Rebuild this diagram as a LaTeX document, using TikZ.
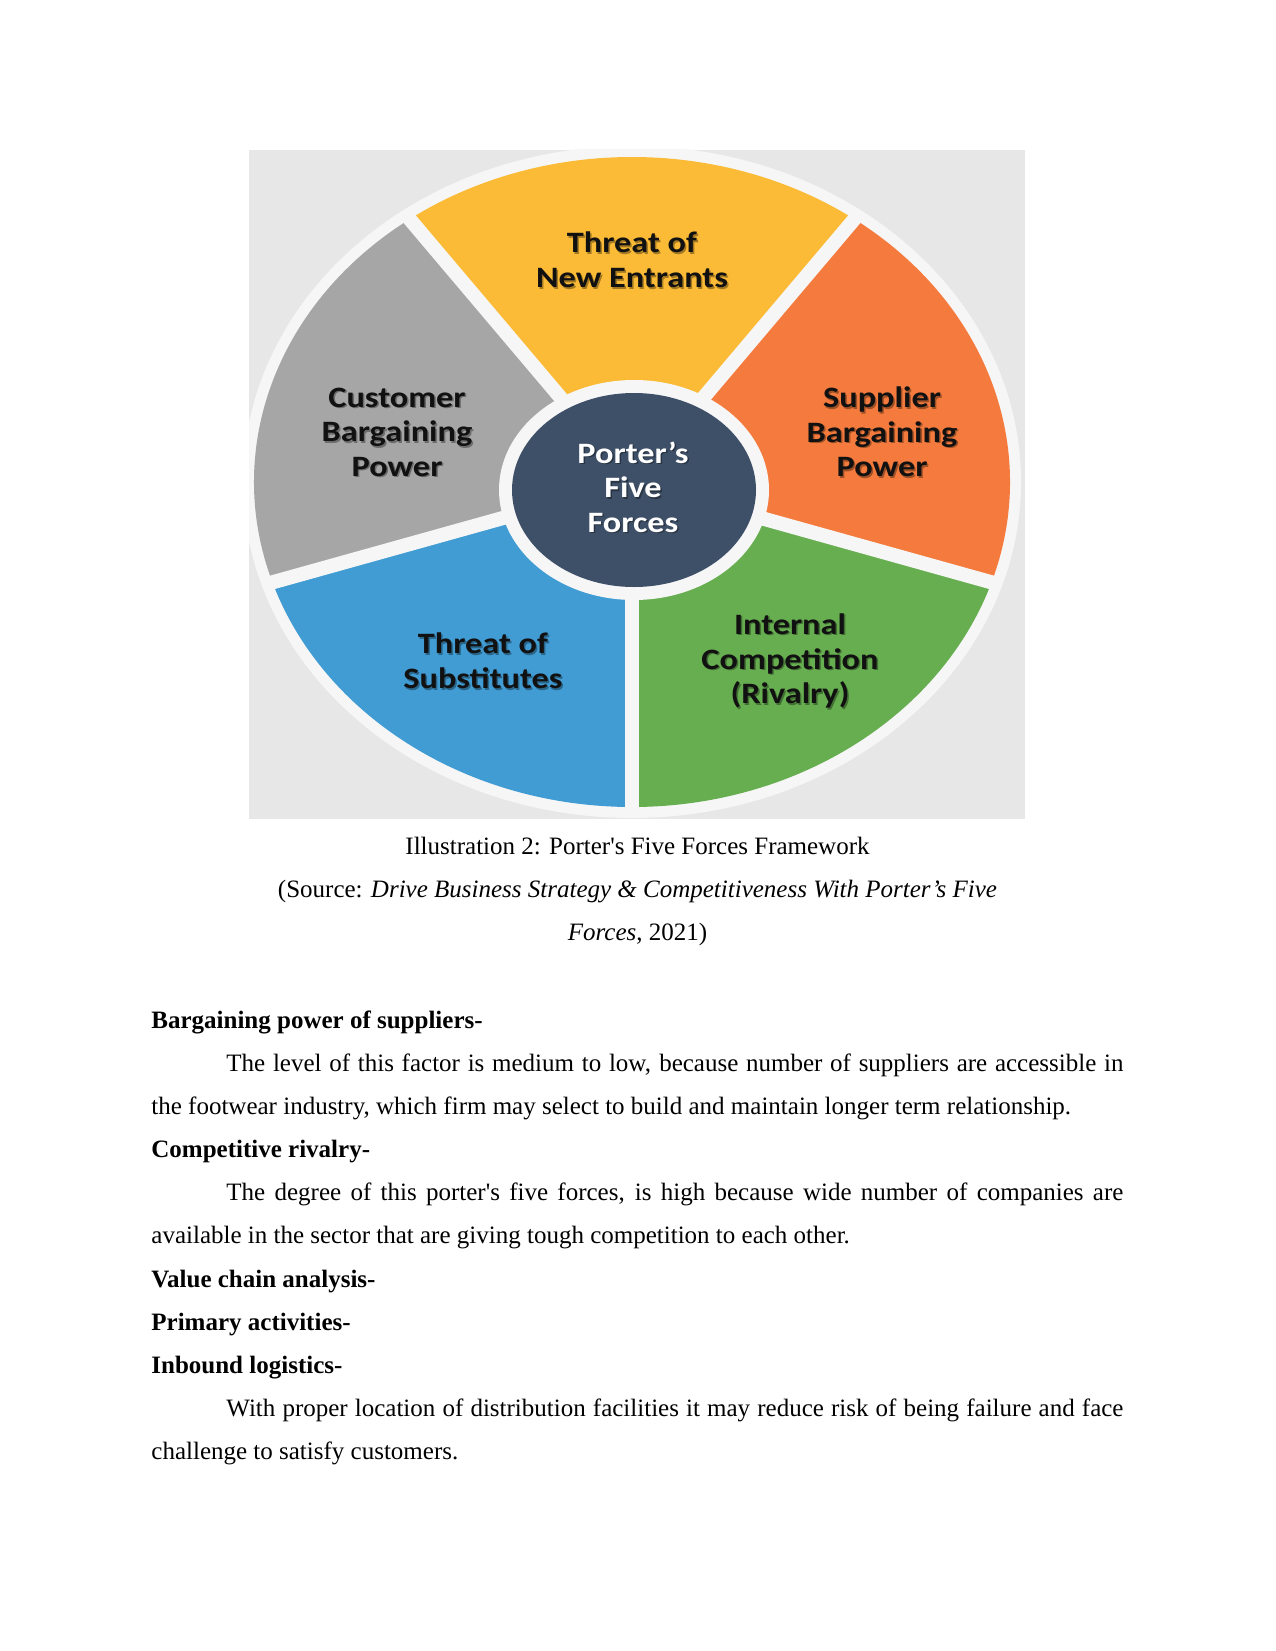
\documentclass[tikz,border=0pt]{standalone}
\usepackage{fontspec}
\setmainfont{Liberation Serif}[Ligatures=TeXOff]
\newfontfamily\diagfont{Carlito}
\definecolor{bgbox}{HTML}{E7E7E7}
\definecolor{ringc}{HTML}{F6F6F6}
\definecolor{yel}{HTML}{FCBB36}
\definecolor{org}{HTML}{F47B3D}
\definecolor{grn}{HTML}{67AE50}
\definecolor{blu}{HTML}{419CD4}
\definecolor{gry}{HTML}{A6A6A6}
\definecolor{drk}{HTML}{3E5068}
\definecolor{lbltext}{HTML}{111111}
\begin{document}
\begin{tikzpicture}[x=0.48pt,y=-0.48pt,
  lbl/.style={font=\diagfont\bfseries\fontsize{14.2}{16.6}\selectfont, align=center, text=lbltext, xscale=1.16, inner sep=0pt},
  shad/.style={lbl, text=black, opacity=0.35},
  bodyl/.style={font=\fontsize{12}{14}\selectfont, anchor=base west, inner sep=0pt},
  capl/.style={font=\fontsize{12}{14}\selectfont, anchor=base, inner sep=0pt},
  gap/.style={draw=ringc, line width=6.8pt}]
\useasboundingbox[fill=white] (0,0) rectangle (1275,1651);
% background box
\fill[bgbox] (249,150) rectangle (1025,819);
\begin{scope}
  \clip (249,150) rectangle (1025,819);
  \fill[ringc] (632,482) ellipse [x radius=389, y radius=336];
\end{scope}
% wedges
\begin{scope}[shift={(632,482)}, xscale=378, yscale=-325]
  \fill[yel] (0,0) -- (54:1) arc[start angle=54, end angle=126, radius=1] -- cycle;
  \fill[gry] (0,0) -- (126:1) arc[start angle=126, end angle=198, radius=1] -- cycle;
  \fill[blu] (0,0) -- (198:1) arc[start angle=198, end angle=270, radius=1] -- cycle;
  \fill[grn] (0,0) -- (270:1) arc[start angle=270, end angle=342, radius=1] -- cycle;
  \fill[org] (0,0) -- (-18:1) arc[start angle=-18, end angle=54, radius=1] -- cycle;
  \clip (0,0) circle [radius=1.02];
  \coordinate (o) at (0,0);
  \coordinate (g1) at (54:1.1);
  \coordinate (g2) at (126:1.1);
  \coordinate (g3) at (198:1.1);
  \coordinate (g4) at (270:1.1);
  \coordinate (g5) at (342:1.1);
  \draw[gap] (o) -- (g1);
  \draw[gap] (o) -- (g2);
  \draw[gap] (o) -- (g3);
  \draw[gap] (o) -- (g4);
  \draw[gap] (o) -- (g5);
\end{scope}
% centre
\fill[ringc] (634,490) ellipse [x radius=135, y radius=110];
\fill[drk] (634,490) ellipse [x radius=122, y radius=97];
% label shadows
\node[shad] (newents) at (633.5,261.5) {Threat of\\New Entrants};
\node[shad] (custs) at (398.5,433.5) {Customer\\Bargaining\\Power};
\node[shad] (supps) at (883.5,433.5) {Supplier\\Bargaining\\Power};
\node[shad] (substs) at (484.5,662.5) {Threat of\\Substitutes};
\node[shad] (rivals) at (791.5,662.5) {Internal\\Competition\\(Rivalry)};
\node[shad] (centres) at (634.5,488.5) {Porter’s\\Five\\Forces};
% labels
\node[lbl] (newent) at (632,260) {Threat of\\New Entrants};
\node[lbl] (cust) at (397,432) {Customer\\Bargaining\\Power};
\node[lbl] (supp) at (882,432) {Supplier\\Bargaining\\Power};
\node[lbl] (subst) at (483,661) {Threat of\\Substitutes};
\node[lbl] (rival) at (790,661) {Internal\\Competition\\(Rivalry)};
\node[lbl, text=white] (centre) at (633,487) {Porter’s\\Five\\Forces};
% caption
\node[capl] (cap1) at (637.5,854) {Illustration 2: Porter's Five Forces Framework};
\node[capl] (cap2) at (637.5,897) {(Source: \textit{Drive Business Strategy \& Competitiveness With Porter’s Five}};
\node[capl] (cap3) at (637.5,940) {\textit{Forces}, 2021)};
% body
\node[bodyl] (b1) at (151,1028) {\textbf{Bargaining power of suppliers-}};
\node[bodyl] (b2) at (226,1071) {\makebox[430.56pt][s]{The level of this factor is medium to low, because number of suppliers are accessible in}};
\node[bodyl] (b3) at (151,1114) {the footwear industry, which firm may select to build and maintain longer term relationship.};
\node[bodyl] (b4) at (151,1157) {\textbf{Competitive rivalry-}};
\node[bodyl] (b5) at (226,1200) {\makebox[430.56pt][s]{The degree of this porter's five forces, is high because wide number of companies are}};
\node[bodyl] (b6) at (151,1243) {available in the sector that are giving tough competition to each other.};
\node[bodyl] (b7) at (151,1287) {\textbf{Value chain analysis-}};
\node[bodyl] (b8) at (151,1330) {\textbf{Primary activities-}};
\node[bodyl] (b9) at (151,1373) {\textbf{Inbound logistics-}};
\node[bodyl] (b10) at (226,1416) {\makebox[430.56pt][s]{With proper location of distribution facilities it may reduce risk of being failure and face}};
\node[bodyl] (b11) at (151,1459) {challenge to satisfy customers.};
\end{tikzpicture}
\end{document}
